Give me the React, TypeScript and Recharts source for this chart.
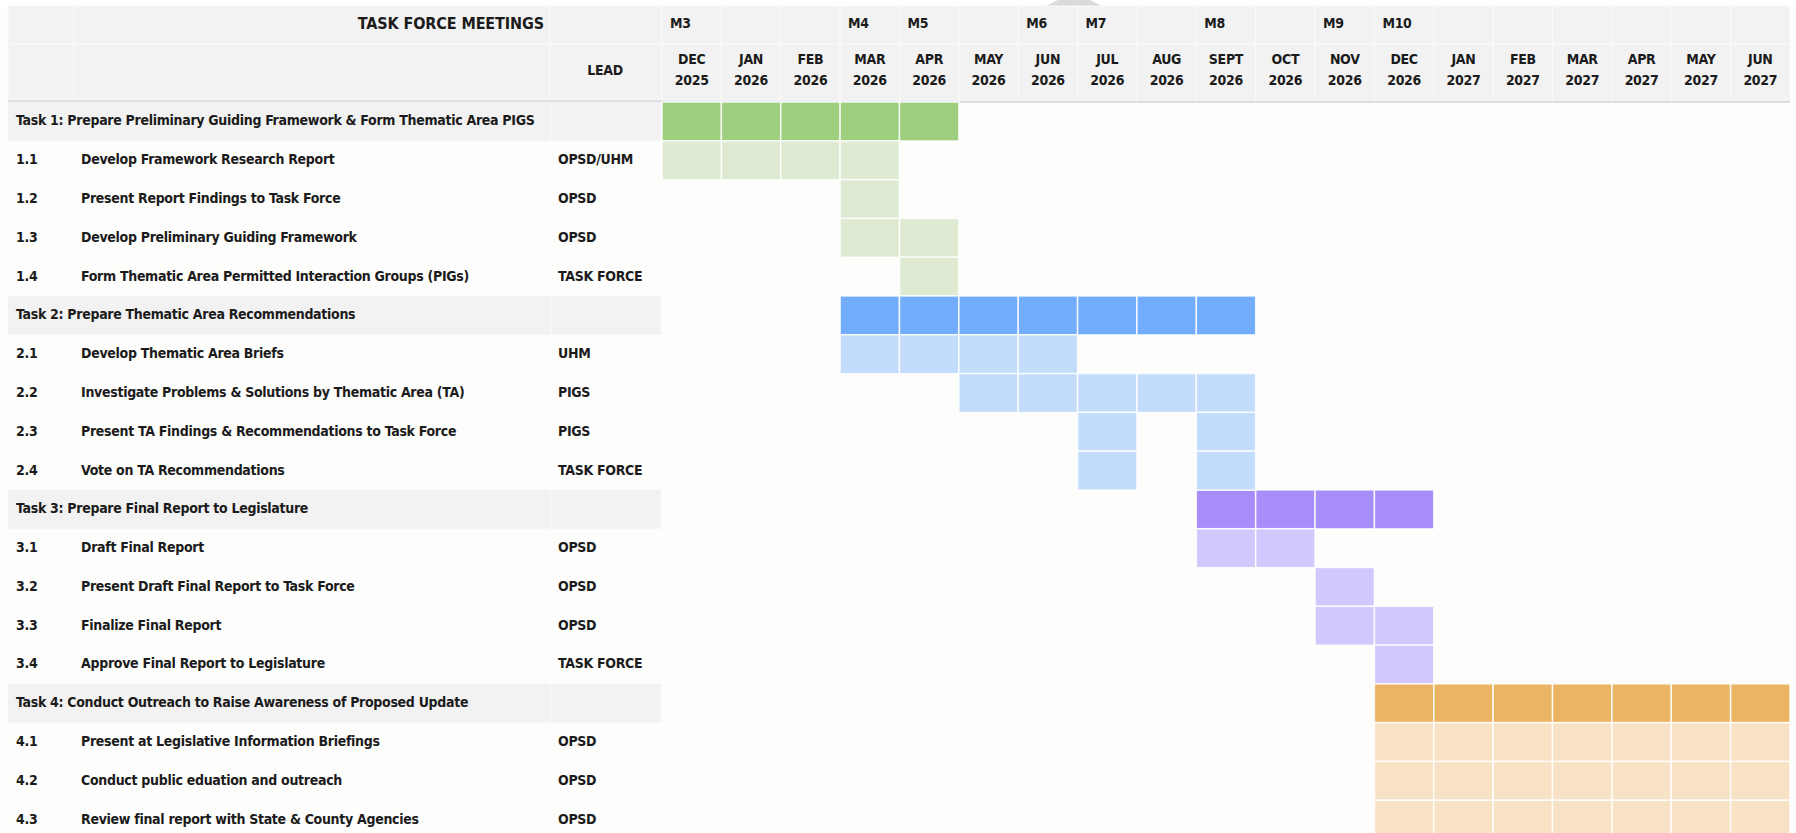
import React from 'react';
import { BarChart, Bar, XAxis, YAxis, Customized } from 'recharts';

const months = ['DEC', 'JAN', 'FEB', 'MAR', 'APR', 'MAY', 'JUN', 'JUL', 'AUG', 'SEPT', 'OCT', 'NOV', 'DEC', 'JAN', 'FEB', 'MAR', 'APR', 'MAY', 'JUN'];
const years = ['2025', '2026', '2026', '2026', '2026', '2026', '2026', '2026', '2026', '2026', '2026', '2026', '2026', '2027', '2027', '2027', '2027', '2027', '2027'];
const meetings = ['M3', '', '', 'M4', 'M5', '', 'M6', 'M7', '', 'M8', '', 'M9', 'M10', '', '', '', '', '', ''];

const rowNums = ['', '1.1', '1.2', '1.3', '1.4', '', '2.1', '2.2', '2.3', '2.4', '', '3.1', '3.2', '3.3', '3.4', '', '4.1', '4.2', '4.3'];
const rowNames = [
  'Task 1: Prepare Preliminary Guiding Framework & Form Thematic Area PIGS',
  'Develop Framework Research Report',
  'Present Report Findings to Task Force',
  'Develop Preliminary Guiding Framework',
  'Form Thematic Area Permitted Interaction Groups (PIGs)',
  'Task 2: Prepare Thematic Area Recommendations',
  'Develop Thematic Area Briefs',
  'Investigate Problems & Solutions by Thematic Area (TA)',
  'Present TA Findings & Recommendations to Task Force',
  'Vote on TA Recommendations',
  'Task 3: Prepare Final Report to Legislature',
  'Draft Final Report',
  'Present Draft Final Report to Task Force',
  'Finalize Final Report',
  'Approve Final Report to Legislature',
  'Task 4: Conduct Outreach to Raise Awareness of Proposed Update',
  'Present at Legislative Information Briefings',
  'Conduct public eduation and outreach',
  'Review final report with State & County Agencies',
];
const rowLeads = ['', 'OPSD/UHM', 'OPSD', 'OPSD', 'TASK FORCE', '', 'UHM', 'PIGS', 'PIGS', 'TASK FORCE', '', 'OPSD', 'OPSD', 'OPSD', 'TASK FORCE', '', 'OPSD', 'OPSD', 'OPSD'];
const rowGroup = [1, 1, 1, 1, 1, 2, 2, 2, 2, 2, 3, 3, 3, 3, 3, 4, 4, 4, 4];
const rowIsTask = [true, false, false, false, false, true, false, false, false, false, true, false, false, false, false, true, false, false, false];
const start1 = [0, 0, 3, 3, 4, 3, 3, 5, 7, 7, 9, 9, 11, 11, 12, 12, 12, 12, 12];
const len1 = [5, 4, 1, 2, 1, 7, 4, 5, 1, 1, 4, 2, 1, 2, 1, 7, 7, 7, 7];
const start2 = [0, 0, 0, 0, 0, 0, 0, 0, 9, 9, 0, 0, 0, 0, 0, 0, 0, 0, 0];
const len2 = [0, 0, 0, 0, 0, 0, 0, 0, 1, 1, 0, 0, 0, 0, 0, 0, 0, 0, 0];

const data = rowNames.map((name, i) => ({
  key: String(i),
  pad1: start1[i],
  span1: len1[i],
  pad2: len2[i] ? start2[i] - start1[i] - len1[i] : 0,
  span2: len2[i],
}));

const FONT = "'Liberation Sans Narrow', 'DejaVu Sans Condensed', 'Roboto', sans-serif";
const TXT = '#1b1b1b';
const HEAD_BG = '#f2f2f2';
const BG = '#fdfdfb';
const PLOT_L = 662;
const PLOT_R = 1790;
const COL_W = (PLOT_R - PLOT_L) / months.length;
const ROW_H = 38.8;
const FS = 14;
const LS = -0.3;

const darkColors: Record<number, string> = { 1: '#9dcf7f', 2: '#72adfb', 3: '#a68df9', 4: '#ebb465' };
const lightColors: Record<number, string> = { 1: '#dfead3', 2: '#c3dcfc', 3: '#d3c8fd', 4: '#f8e2c6' };

const makeShape = (field: 'span1' | 'span2') => (props: any) => {
  const { x, y, width, height, payload } = props;
  const n = payload ? payload[field] : 0;
  if (!n || !width || width <= 0) return <g />;
  const idx = Number(payload.key);
  const fill = rowIsTask[idx] ? darkColors[rowGroup[idx]] : lightColors[rowGroup[idx]];
  const cw = width / n;
  const cells = [];
  for (let k = 0; k < n; k++) {
    cells.push(
      <rect key={k} x={x + k * cw} y={y} width={cw} height={height} fill={fill} stroke="#ffffff" strokeOpacity={0.85} strokeWidth={1.5} />
    );
  }
  return <g>{cells}</g>;
};

const XTick = (props: any) => {
  const { x, payload } = props;
  const i = Math.floor(payload.value);
  const left = x - COL_W / 2;
  return (
    <g>
      <rect x={left} y={6} width={COL_W} height={38} fill={HEAD_BG} stroke="#fafafa" strokeWidth={1} />
      <rect x={left} y={44} width={COL_W} height={56} fill={HEAD_BG} stroke="#fafafa" strokeWidth={1} />
      <text x={left + 8} y={28} fontFamily={FONT} fontWeight={700} fontSize={FS} letterSpacing={LS} fill={TXT}>{meetings[i]}</text>
      <text x={x} y={64} textAnchor="middle" fontFamily={FONT} fontWeight={700} fontSize={FS} letterSpacing={LS} fill={TXT}>{months[i]}</text>
      <text x={x} y={85} textAnchor="middle" fontFamily={FONT} fontWeight={700} fontSize={FS} letterSpacing={LS} fill={TXT}>{years[i]}</text>
    </g>
  );
};

const YTick = (props: any) => {
  const { y, payload } = props;
  const i = Number(payload.value);
  const task = rowIsTask[i];
  const top = y - ROW_H / 2;
  const ty = y + 4;
  return (
    <g>
      {task ? (
        <g>
          <rect x={8} y={top} width={542} height={ROW_H} fill={HEAD_BG} />
          <rect x={551} y={top} width={110} height={ROW_H} fill={HEAD_BG} />
        </g>
      ) : null}
      {task ? (
        <text x={16} y={ty} fontFamily={FONT} fontWeight={700} fontSize={FS} letterSpacing={LS} fill={TXT}>{rowNames[i]}</text>
      ) : (
        <g>
          <text x={16} y={ty} fontFamily={FONT} fontWeight={700} fontSize={FS} letterSpacing={LS} fill={TXT}>{rowNums[i]}</text>
          <text x={81} y={ty} fontFamily={FONT} fontWeight={700} fontSize={FS} letterSpacing={LS} fill={TXT}>{rowNames[i]}</text>
          <text x={558} y={ty} fontFamily={FONT} fontWeight={700} fontSize={FS} letterSpacing={LS} fill={TXT}>{rowLeads[i]}</text>
        </g>
      )}
    </g>
  );
};

const HeaderLeft = () => (
  <g>
    <polygon points="1046,6 1102,6 1090,0 1058,0" fill="#dadada" />
    <rect x={8} y={6} width={66} height={38} fill={HEAD_BG} stroke="#fafafa" />
    <rect x={74} y={6} width={476} height={38} fill={HEAD_BG} stroke="#fafafa" />
    <rect x={550} y={6} width={112} height={38} fill={HEAD_BG} stroke="#fafafa" />
    <rect x={8} y={44} width={66} height={56} fill={HEAD_BG} stroke="#fafafa" />
    <rect x={74} y={44} width={476} height={56} fill={HEAD_BG} stroke="#fafafa" />
    <rect x={550} y={44} width={112} height={56} fill={HEAD_BG} stroke="#fafafa" />
    <text x={544} y={29} textAnchor="end" fontFamily={FONT} fontWeight={700} fontSize={16} letterSpacing={-0.1} fill={TXT}>TASK FORCE MEETINGS</text>
    <text x={605} y={75} textAnchor="middle" fontFamily={FONT} fontWeight={700} fontSize={FS} letterSpacing={LS} fill={TXT}>LEAD</text>
    <rect x={8} y={100} width={PLOT_R - 8} height={3} fill="#dde0e2" />
  </g>
);

export default function App() {
  const ticks = months.map((_, i) => i + 0.5);
  return (
    <div style={{ position: 'absolute', left: 0, top: 0, width: 1796, height: 833, overflow: 'hidden', background: BG }}>
      <div style={{ position: 'absolute', left: 0, top: 0, width: 1796, height: 6, background: '#ffffff' }} />
      <BarChart
        width={1796}
        height={839}
        data={data}
        layout="vertical"
        barCategoryGap={0}
        barGap={0}
        margin={{ top: 6, right: 1796 - PLOT_R, bottom: 0, left: 8 }}
      >
        <Customized component={HeaderLeft} />
        <XAxis
          type="number"
          orientation="top"
          domain={[0, months.length]}
          ticks={ticks}
          interval={0}
          height={96}
          axisLine={false}
          tickLine={false}
          tickSize={0}
          tick={<XTick />}
        />
        <YAxis
          type="category"
          dataKey="key"
          width={PLOT_L - 8}
          axisLine={false}
          tickLine={false}
          tickSize={0}
          interval={0}
          tick={<YTick />}
        />
        <Bar dataKey="pad1" stackId="s" fill="transparent" isAnimationActive={false} />
        <Bar dataKey="span1" stackId="s" shape={makeShape('span1')} isAnimationActive={false} />
        <Bar dataKey="pad2" stackId="s" fill="transparent" isAnimationActive={false} />
        <Bar dataKey="span2" stackId="s" shape={makeShape('span2')} isAnimationActive={false} />
      </BarChart>
    </div>
  );
}
